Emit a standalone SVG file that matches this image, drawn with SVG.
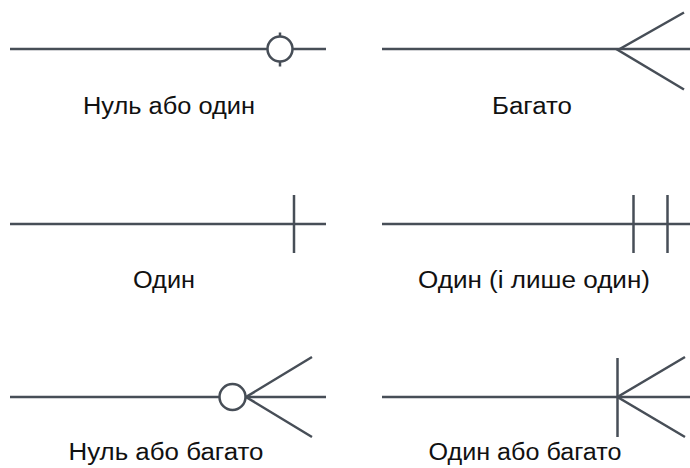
<svg xmlns="http://www.w3.org/2000/svg" width="690" height="468" viewBox="0 0 690 468">
  <style>
    .ln { stroke: #474e57; stroke-width: 2.5; fill: none; stroke-linecap: butt; }
    .ring { stroke: #474e57; stroke-width: 2.5; fill: #ffffff; }
    .lbl { font-family: "Liberation Sans", Arial, sans-serif; font-size: 23.5px; fill: #111111; text-anchor: middle; }
  </style>
  <rect width="690" height="468" fill="#ffffff"/>

  <g id="connectors">
    <!-- zero or one -->
    <g id="zero-or-one">
      <line class="ln" x1="10" y1="49" x2="326" y2="49"/>
      <line class="ln" x1="280" y1="32.5" x2="280" y2="66.5"/>
      <circle class="ring" cx="280" cy="49" r="12.5"/>
    </g>
    <!-- many -->
    <g id="many">
      <line class="ln" x1="382" y1="49" x2="690" y2="49"/>
      <polyline class="ln" points="684,12.5 618,50 684,89.5"/>
    </g>
    <!-- one -->
    <g id="one">
      <line class="ln" x1="10" y1="224" x2="326" y2="224"/>
      <line class="ln" x1="294" y1="195" x2="294" y2="253"/>
    </g>
    <!-- one and only one -->
    <g id="one-and-only-one">
      <line class="ln" x1="382" y1="224" x2="690" y2="224"/>
      <line class="ln" x1="633.5" y1="195" x2="633.5" y2="253"/>
      <line class="ln" x1="667.5" y1="195" x2="667.5" y2="253"/>
    </g>
    <!-- zero or many -->
    <g id="zero-or-many">
      <line class="ln" x1="10" y1="397" x2="326" y2="397"/>
      <polyline class="ln" points="312,357 246,397 312,437"/>
      <circle class="ring" cx="232.5" cy="397" r="13"/>
    </g>
    <!-- one or many -->
    <g id="one-or-many">
      <line class="ln" x1="382" y1="397" x2="690" y2="397"/>
      <line class="ln" x1="617.5" y1="358" x2="617.5" y2="437"/>
      <polyline class="ln" points="685,357 617.5,397 685,437"/>
    </g>
  </g>

  <g id="labels">
    <text class="lbl" x="169" y="114" textLength="172" lengthAdjust="spacingAndGlyphs">Нуль або один</text>
    <text class="lbl" x="532" y="114" textLength="80" lengthAdjust="spacingAndGlyphs">Багато</text>
    <text class="lbl" x="164" y="288" textLength="62" lengthAdjust="spacingAndGlyphs">Один</text>
    <text class="lbl" x="534" y="288" textLength="232" lengthAdjust="spacingAndGlyphs">Один (і лише один)</text>
    <text class="lbl" x="166" y="460" textLength="195" lengthAdjust="spacingAndGlyphs">Нуль або багато</text>
    <text class="lbl" x="525" y="460" textLength="193" lengthAdjust="spacingAndGlyphs">Один або багато</text>
  </g>
</svg>
